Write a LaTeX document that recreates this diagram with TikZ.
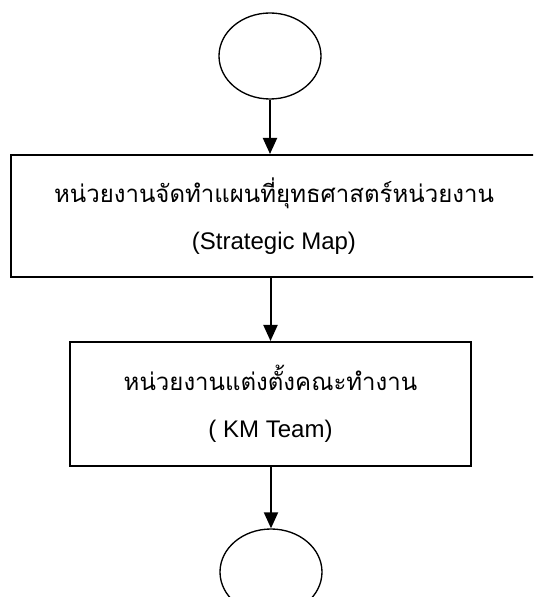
\documentclass[tikz,border=0pt]{standalone}
\usepackage{fontspec}
\setmainfont{Liberation Sans}
\newfontfamily\thaifont[Script=Thai]{Loma}
\usepackage{tikz}
\usetikzlibrary{arrows.meta,shapes.geometric}

\begin{document}
\begin{tikzpicture}[x=0.75pt, y=0.75pt,
  term/.style={draw, ellipse, line width=1pt, inner sep=0pt, minimum width=76.5pt, minimum height=64.5pt},
  proc/.style={draw, rectangle, line width=1.5pt, align=center, font=\fontsize{18}{22}\selectfont},
  flow/.style={-{Triangle[width=10.5pt,length=12pt]}, line width=1.5pt}]
\clip (0,0) rectangle (533,597);

\node [term] (start) at (270,541) {};
\node [proc, minimum width=394.5pt, minimum height=91.5pt] (plan) at (274,381)
  {{\thaifont หน่วยงานจัดทำแผนที่ยุทธศาสตร์หน่วยงาน}\\[13pt](Strategic Map)};
\node [proc, minimum width=300.75pt, minimum height=93pt] (team) at (270.5,193)
  {{\thaifont หน่วยงานแต่งตั้งคณะทำงาน}\\[13pt]( KM Team)};
\node [term] (stop) at (271,25) {};

\draw [flow] (start.south) -- (start.south |- plan.north);
\draw [flow] (plan.south -| team.north) -- (team.north);
\draw [flow] (team.south) -- (team.south -| stop.north) -- (stop.north);
\end{tikzpicture}
\end{document}
